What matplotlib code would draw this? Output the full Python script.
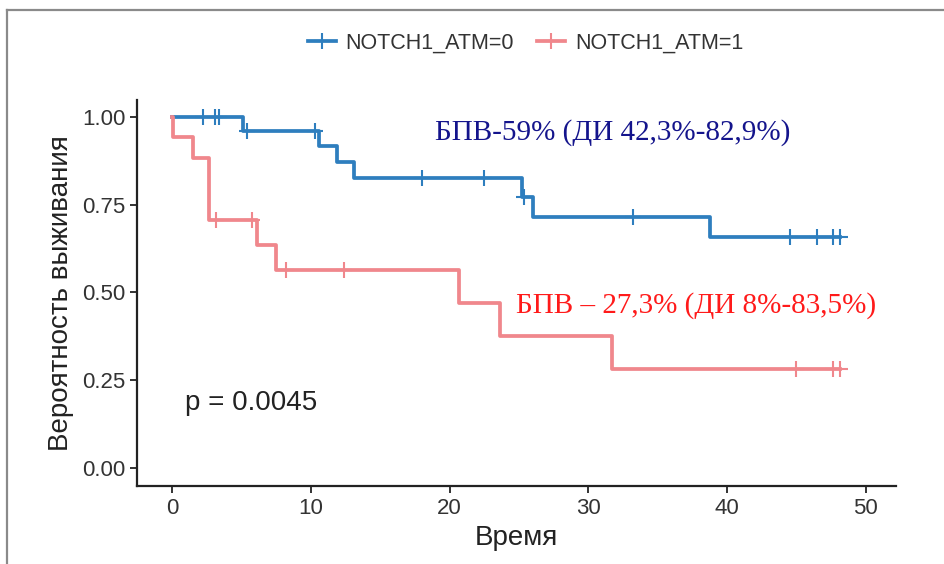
import numpy as np
import matplotlib.pyplot as plt
from matplotlib.lines import Line2D

# Kaplan-Meier steps per group
grp_labels = ["NOTCH1_ATM=0", "NOTCH1_ATM=1"]

t_event_0 = [5.1, 10.6, 11.9, 13.1, 25.2, 26.0, 38.8]
s_event_0 = [0.958, 0.916, 0.870, 0.826, 0.772, 0.716, 0.658]
t_cens_0 = [2.2, 3.1, 3.4, 5.4, 10.3, 18.0, 22.5, 25.4, 33.2, 44.5, 46.5, 47.6, 48.1]

t_event_1 = [0.1, 1.5, 2.7, 6.1, 7.5, 20.7, 23.6, 31.7]
s_event_1 = [0.941, 0.882, 0.706, 0.635, 0.565, 0.471, 0.377, 0.283]
t_cens_1 = [3.2, 5.8, 8.2, 12.4, 45.0, 47.6, 48.1]

t_end = 48.1

colors = ["#2E7EBE", "#F0878C"]

plt.rcParams['font.family'] = ['Liberation Sans', 'DejaVu Sans']

fig = plt.figure(figsize=(9.45, 5.64), dpi=100)
ax = fig.add_axes([0.145, 0.138, 0.803, 0.685])


def km_curve(ax, t_ev, s_ev, t_c, color):
    t = [0] + t_ev + [t_end]
    s = [1.0] + s_ev + [s_ev[-1]]
    ax.step(t, s, where='post', color=color, lw=2.7, zorder=3)
    idx = np.searchsorted(t_ev, t_c, side='right')
    s_c = np.array([1.0] + s_ev)[idx]
    ax.plot(t_c, s_c, ls='none', marker='+', ms=11, mew=1.5, color=color, zorder=4)


km_curve(ax, t_event_0, s_event_0, t_cens_0, colors[0])
km_curve(ax, t_event_1, s_event_1, t_cens_1, colors[1])

ax.set_xlim(-2.52, 52.16)
ax.set_ylim(-0.051, 1.048)
ax.set_xticks([0, 10, 20, 30, 40, 50])
ax.set_yticks([0, 0.25, 0.5, 0.75, 1.0])
ax.set_yticklabels(["0.00", "0.25", "0.50", "0.75", "1.00"])
ax.tick_params(labelsize=16, colors='#333333', length=5, width=1.4, labelcolor='#333333')
for side in ['top', 'right']:
    ax.spines[side].set_visible(False)
for side in ['left', 'bottom']:
    ax.spines[side].set_linewidth(1.6)
    ax.spines[side].set_color('#222222')

ax.set_xlabel("Время", fontsize=20, color='#222222', labelpad=4)
ax.set_ylabel("Вероятность выживания", fontsize=20, color='#222222', labelpad=6)

ax.text(0.94, 0.185, "p = 0.0045", fontsize=20, color='#222222', va='center')
ax.text(18.95, 0.954, "БПВ-59% (ДИ 42,3%-82,9%)", fontsize=21, color='#14148C',
        family='Liberation Serif', va='center')
ax.text(24.78, 0.464, "БПВ – 27,3% (ДИ 8%-83,5%)", fontsize=21, color='#FF1A1A',
        family='Liberation Serif', va='center')

handles = [Line2D([], [], color=c, lw=2.7, marker='+', ms=11, mew=1.5) for c in colors]
fig.legend(handles, grp_labels, loc='center', bbox_to_anchor=(0.556, 0.924), ncol=2,
           frameon=False, fontsize=15.5, handlelength=1.3, handletextpad=0.45, columnspacing=1.1,
           labelcolor='#333333')

# frame lines on the top and left edge
fig.add_artist(Line2D([7 / 945, 1], [1 - 10 / 564, 1 - 10 / 564], color='#8a8a8a', lw=1.6))
fig.add_artist(Line2D([7 / 945, 7 / 945], [0, 1 - 10 / 564], color='#8a8a8a', lw=1.6))

fig.savefig("out.png", dpi=100)
